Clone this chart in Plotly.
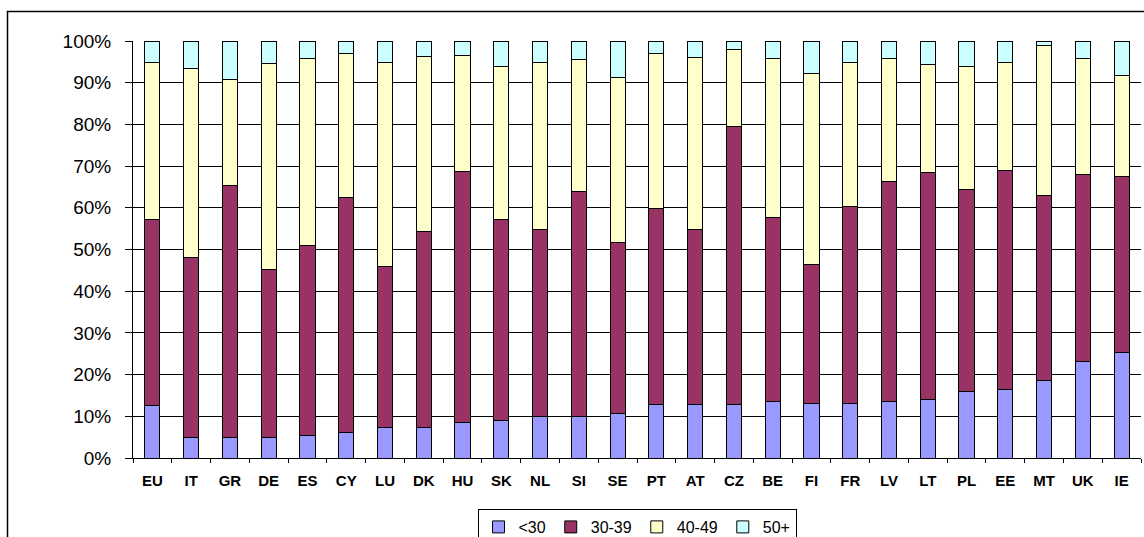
import plotly.graph_objects as go

countries = ["EU", "IT", "GR", "DE", "ES", "CY", "LU", "DK", "HU", "SK", "NL", "SI", "SE",
             "PT", "AT", "CZ", "BE", "FI", "FR", "LV", "LT", "PL", "EE", "MT", "UK", "IE"]

age_lt30 = [12.5, 4.8, 4.8, 4.8, 5.4, 6.1, 7.3, 7.3, 8.6, 9.0, 9.9, 9.9, 10.6,
            12.8, 12.8, 12.8, 13.5, 13.1, 13.1, 13.5, 14.1, 16.0, 16.4, 18.6, 23.1, 25.2]
age_30_39 = [44.6, 43.2, 60.6, 40.3, 45.6, 56.4, 38.6, 46.9, 60.0, 48.1, 44.8, 54.1, 41.0,
             47.1, 41.9, 66.6, 44.2, 33.3, 47.2, 52.8, 54.4, 48.4, 52.5, 44.3, 44.8, 42.2]
age_40_49 = [37.7, 45.5, 25.4, 49.5, 44.8, 34.6, 49.0, 42.0, 27.9, 36.8, 40.1, 31.5, 39.7,
             37.2, 41.4, 18.6, 38.1, 45.9, 34.5, 29.5, 25.8, 29.5, 25.9, 36.1, 27.9, 24.3]
age_50p = [5.2, 6.5, 9.2, 5.4, 4.2, 2.9, 5.1, 3.8, 3.5, 6.1, 5.2, 4.5, 8.7,
           2.9, 3.9, 2.0, 4.2, 7.7, 5.2, 4.2, 5.7, 6.1, 5.2, 1.0, 4.2, 8.3]

series_names = ["<30", "30-39", "40-49", "50+"]
series_values = [age_lt30, age_30_39, age_40_49, age_50p]
series_colors = ["#9999FF", "#993366", "#FFFFCC", "#CCFFFF"]

y_ticks = list(range(0, 101, 10))

fig = go.Figure()
for name, vals, col in zip(series_names, series_values, series_colors):
    fig.add_trace(go.Bar(
        x=countries, y=vals, name=name,
        marker=dict(color=col, line=dict(color="black", width=1)),
    ))

# plot area geometry (pixels)
L, R, T, B = 133, 3, 41, 79
W, H = 1144, 537
pw, ph = W - L - R, H - T - B

def px_x(x):
    return (x - L) / pw

def px_y(y):
    return (H - B - y) / ph

fig.update_layout(
    width=W, height=H,
    margin=dict(l=L, r=R, t=T, b=B, pad=0, autoexpand=False),
    paper_bgcolor="white", plot_bgcolor="white",
    barmode="stack", bargap=0.61,
    font=dict(family="Arial, Liberation Sans, sans-serif", color="black", size=15),
    showlegend=True,
    legend=dict(
        orientation="h", traceorder="normal",
        xref="container", yref="container",
        x=637 / W, xanchor="center", y=1 - 509 / H, yanchor="top",
        bordercolor="black", borderwidth=1,
        font=dict(size=16), itemwidth=30,
    ),
    xaxis=dict(
        showline=True, linecolor="black", linewidth=1,
        ticks="outside", tickson="boundaries", ticklen=4, tickcolor="black",
        tickfont=dict(size=15, family="Arial, sans-serif", weight="bold"),
        ticklabelstandoff=9,
        showgrid=False, automargin=False,
    ),
    yaxis=dict(
        range=[0, 100], tickvals=y_ticks, ticktext=[f"{v}%" for v in y_ticks],
        showline=True, linecolor="black", linewidth=1,
        ticks="outside", ticklen=7, tickcolor="black",
        showgrid=True, gridcolor="black", gridwidth=1,
        tickfont=dict(size=19),
        ticklabelstandoff=10,
        zeroline=False, automargin=False,
    ),
    shapes=[
        dict(type="rect", xref="paper", yref="paper",
             x0=px_x(7.5), x1=px_x(1160), y0=px_y(560), y1=px_y(11.5),
             line=dict(color="black", width=1.5), fillcolor="rgba(0,0,0,0)", layer="below"),
    ],
)

fig.write_html("out.html", config={"displayModeBar": False},
               post_script="document.body.style.margin='0';document.body.style.overflow='hidden';")
